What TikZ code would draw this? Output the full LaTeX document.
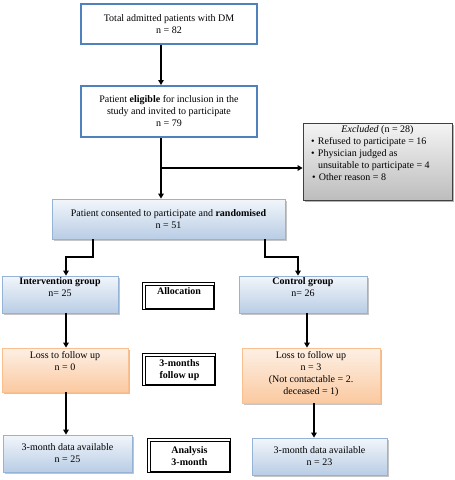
\documentclass[tikz,border=0pt]{standalone}
\usepackage{fontspec}
\setmainfont{Liberation Serif}
\usetikzlibrary{arrows.meta,shadows}
\definecolor{bborder}{HTML}{4F81BD}
\definecolor{lbborder}{HTML}{95B3D7}
\definecolor{lbtop}{HTML}{F2F6FB}
\definecolor{lbbot}{HTML}{B9CDE5}
\definecolor{obborder}{HTML}{F9BF8F}
\definecolor{obtop}{HTML}{FDF0E5}
\definecolor{obbot}{HTML}{FBC9A0}
\definecolor{gbtop}{HTML}{F4F4F4}
\definecolor{gbbot}{HTML}{BDBDBD}
\newcommand{\ctxt}[3]{\begin{minipage}[c][#2][c]{#1}\centering #3\end{minipage}}
\newcommand{\ttxt}[4]{\begin{minipage}[c][#2][t]{#1}\vspace*{#3}\centering #4\end{minipage}}
\tikzset{
  base/.style={inner sep=0pt, font=\fontsize{10}{12}\selectfont},
  bluebox/.style={base, draw=bborder, line width=2pt, fill=white},
  lbluebox/.style={base, draw=lbborder, line width=0.8pt, top color=lbtop, bottom color=lbbot,
    drop shadow={shadow xshift=1.5pt, shadow yshift=-1.5pt, fill=black!45, opacity=0.5}},
  orangebox/.style={base, draw=obborder, line width=0.8pt, top color=obtop, bottom color=obbot,
    drop shadow={shadow xshift=1.5pt, shadow yshift=-1.5pt, fill=black!45, opacity=0.5}},
  graybox/.style={base, draw=black!75, line width=0.8pt, top color=gbtop, bottom color=gbbot,
    drop shadow={shadow xshift=2pt, shadow yshift=-2pt, fill=black!50, opacity=0.6}},
  stagebox/.style={base, draw=black, line width=0.7pt, fill=white},
  outerframe/.style={draw=black, line width=0.6pt},
  arr/.style={line width=1.6pt, -{Triangle[length=5pt,width=5.5pt]}},
  ln/.style={line width=1.6pt}
}
\begin{document}
\begin{tikzpicture}[x=1pt,y=-1pt]
\useasboundingbox (0,0) rectangle (455,480);
\node[bluebox] (b1) at (169,24) {\ctxt{176pt}{40pt}{Total admitted patients with DM\\ n = 82}};
\node[bluebox] (b2) at (169,111.5) {\ctxt{176pt}{51pt}{Patient \textbf{eligible} for inclusion in the\\ study and invited to participate\\ n = 79}};
\node[graybox] (ex) at (377.5,161.5) {\begin{minipage}[c][77pt][t]{149pt}\vspace*{3pt}
  {\centering\textit{Excluded} (n = 28)\par}
  \raggedright
  \hspace*{8pt}\makebox[7pt][l]{\textbullet}Refused to participate = 16\par
  \hspace*{8pt}\makebox[7pt][l]{\textbullet}Physician judged as\par
  \hspace*{15pt}unsuitable to participate = 4\par
  \hspace*{9pt}\makebox[7pt][l]{\textbullet}Other reason = 8\par
  \end{minipage}};
\node[lbluebox] (rand) at (168.5,219) {\ctxt{233pt}{40pt}{Patient consented to participate and \textbf{randomised}\\ n = 51}};
\node[lbluebox] (int) at (60,294.5) {\ttxt{116pt}{37pt}{2pt}{\textbf{Intervention group}\\ n= 25}};
\node[stagebox] (alloc) at (179,296.5) {\ttxt{68pt}{23pt}{3pt}{\textbf{Allocation}}};
\node[lbluebox] (ctrl) at (303,294.5) {\ttxt{128pt}{37pt}{2pt}{\textbf{Control group}\\ n= 26}};
\node[orangebox] (loss1) at (65,370) {\ttxt{126pt}{44pt}{3pt}{Loss to follow up\\ n = 0}};
\node[stagebox] (fu) at (179.5,370) {\ctxt{69pt}{28pt}{\textbf{3-months}\\ \textbf{follow up}}};
\node[orangebox] (loss2) at (311,375.5) {\ttxt{138pt}{55pt}{3pt}{Loss to follow up\\ n = 3\\ (Not contactable = 2.\\ deceased = 1)}};
\node[lbluebox] (data1) at (67.5,453.5) {\ctxt{129pt}{37pt}{3-month data available\\ n = 25}};
\node[stagebox] (ana) at (189.5,456) {\ctxt{79pt}{30pt}{\textbf{Analysis}\\ \textbf{3-month}}};
\node[lbluebox] (data2) at (319.5,456.5) {\ctxt{135pt}{37pt}{3-month data available\\ n = 23}};
% outer frames of the stage boxes
\foreach \s in {alloc,fu,ana}{
  \draw[outerframe] ([xshift=-2pt,yshift=2pt]\s.north west) rectangle ([xshift=0.5pt,yshift=-0.5pt]\s.south east);
}
% connectors
\coordinate (m) at (161,0);
\coordinate (j) at (161,168);
\draw[arr] (b1.south -| m) -- (b2.north -| m);
\draw[arr] (b2.south -| m) -- (rand.north -| m);
\draw[arr] (j) -- (ex.west |- j);
\coordinate (la) at (93,257); \coordinate (lb) at (66,257);
\coordinate (ra) at (265,257); \coordinate (rb) at (298,257);
\draw[arr] (rand.south -| la) -- (la) -- (lb) -- (int.north -| lb);
\draw[arr] (rand.south -| ra) -- (ra) -- (rb) -- (ctrl.north -| rb);
\coordinate (c1) at (66,0); \coordinate (c2) at (307,0); \coordinate (c3) at (314,0);
\draw[arr] (int.south -| c1) -- (loss1.north -| c1);
\draw[arr] (loss1.south -| c1) -- (data1.north -| c1);
\draw[arr] (ctrl.south -| c2) -- (loss2.north -| c2);
\draw[arr] (loss2.south -| c3) -- (data2.north -| c3);
\end{tikzpicture}
\end{document}
